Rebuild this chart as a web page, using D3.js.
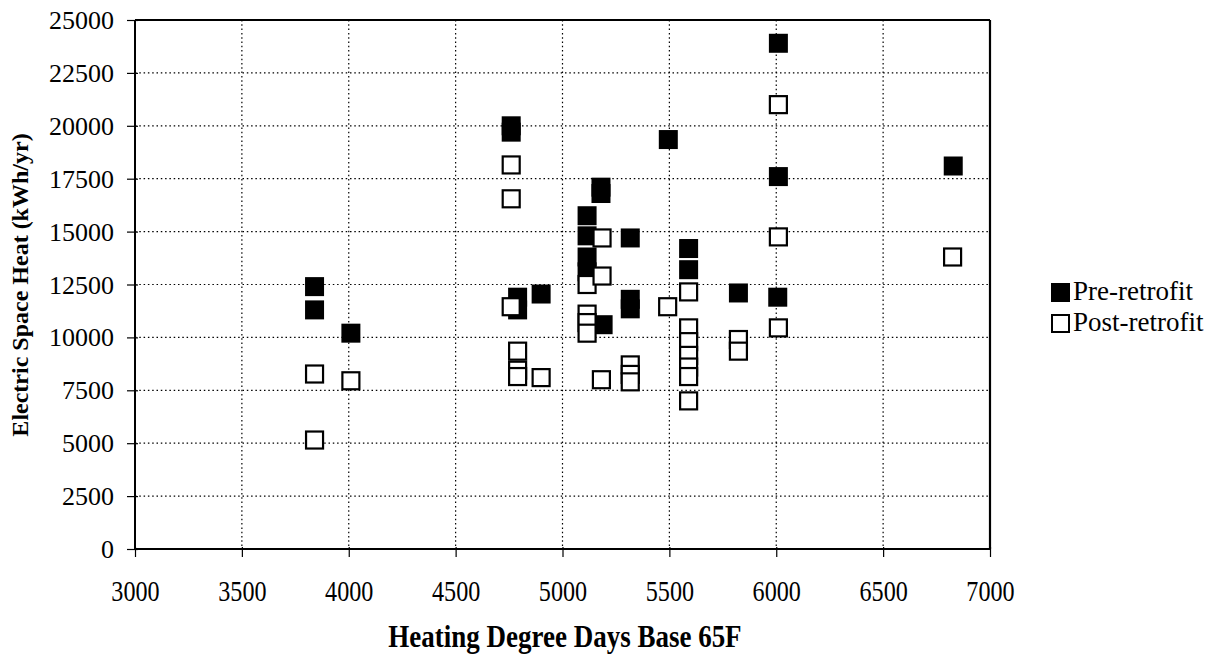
<!DOCTYPE html>
<html lang="en">
<head>
<meta charset="UTF-8">
<title>Electric Space Heat vs HDD</title>
<script src="https://d3js.org/d3.v7.min.js"></script>
<style>
    body { margin: 0; background: #fff; }
    text { font-family: "Liberation Serif", "Times New Roman", serif; fill: #000; }
    .grid line { stroke: #000; stroke-width: 1.2; stroke-dasharray: 1.5,2.8; }
</style>
</head>
<body>
<svg width="1220" height="656"></svg>
<script>
// pre-retrofit readings (filled squares)
const preHDD = [3840, 3840, 4010, 4760, 4760, 4790, 4790, 4900, 5115, 5115, 5115, 5115,
    5180, 5180, 5190, 5317, 5317, 5317, 5495, 5590, 5590, 5823, 6010, 6010, 6007, 6828];
const preKwh = [12400, 11300, 10200, 20000, 19700, 11900, 11300, 12050, 15750, 14800, 13800, 13100,
    17100, 16800, 10600, 14700, 11800, 11350, 19350, 14200, 13200, 12100, 23900, 17600, 11900, 18100];

// post-retrofit readings (open squares)
const postHDD = [3840, 3840, 4010, 4760, 4760, 4760, 4790, 4790, 4790, 4900, 5115, 5115, 5115, 5115,
    5185, 5185, 5182, 5317, 5317, 5317, 5492, 5590, 5590, 5590, 5590, 5590, 5590, 5590,
    5823, 5823, 6010, 6010, 6010, 6825];
const postKwh = [8270, 5150, 7950, 18150, 16550, 11450, 9350, 8450, 8150, 8100, 12500, 11100, 10700, 10200,
    14700, 12900, 8000, 8700, 8250, 7900, 11450, 12150, 10450, 9800, 9150, 8600, 8150, 7000,
    9900, 9350, 21000, 14750, 10450, 13800];

const xTicks = [3000, 3500, 4000, 4500, 5000, 5500, 6000, 6500, 7000];
const yTicks = [0, 2500, 5000, 7500, 10000, 12500, 15000, 17500, 20000, 22500, 25000];
const seriesNames = ["Pre-retrofit", "Post-retrofit"];

const svg = d3.select("svg");
const pL = 135, pR = 990, pT = 20, pB = 549;

const x = d3.scaleLinear().domain([3000, 7000]).range([pL, pR]);
const y = d3.scaleLinear().domain([0, 25000]).range([pB, pT]);

// dotted grid
const grid = svg.append("g").attr("class", "grid");
grid.selectAll(".gy").data(yTicks.slice(1, -1)).join("line")
    .attr("x1", pL).attr("x2", pR)
    .attr("y1", d => y(d)).attr("y2", d => y(d));
grid.selectAll(".gx").data(xTicks.slice(1, -1)).join("line")
    .attr("x1", d => x(d)).attr("x2", d => x(d))
    .attr("y1", pT).attr("y2", pB);

// frame top + right
svg.append("line").attr("x1", pL).attr("x2", pR).attr("y1", pT).attr("y2", pT)
    .attr("stroke", "#000").attr("stroke-width", 2);
svg.append("line").attr("x1", pR).attr("x2", pR).attr("y1", pT).attr("y2", pB)
    .attr("stroke", "#000").attr("stroke-width", 2.2);

// axes
let xAxis = svg.append("g").attr("transform", `translate(0,${pB})`)
    .call(d3.axisBottom(x).tickValues(xTicks).tickSize(8).tickFormat(d3.format("d")));
let yAxis = svg.append("g").attr("transform", `translate(${pL},0)`)
    .call(d3.axisLeft(y).tickValues(yTicks).tickSize(8).tickPadding(13).tickFormat(d3.format("d")));

[xAxis, yAxis].forEach(a => {
    a.select(".domain").attr("stroke", "#000").attr("stroke-width", 2);
    a.selectAll(".tick line").attr("stroke", "#000").attr("stroke-width", 1.2);
});
yAxis.select(".domain").attr("d", `M0,${pT}V${pB}`);
xAxis.select(".domain").attr("d", `M${pL},0H${pR}`);
yAxis.selectAll(".tick line").attr("x1", 3);
xAxis.selectAll(".tick line").attr("y1", -2);

yAxis.selectAll(".tick text").style("font-size", "26px").attr("dy", "0.33em");
xAxis.selectAll(".tick text")
    .style("font-size", "23px")
    .attr("dy", null).attr("y", null)
    .attr("transform", "translate(0,52) scale(1.05,1.3)");

// axis titles
const cx = 565;
svg.append("text")
    .attr("x", cx).attr("y", 647)
    .attr("text-anchor", "middle")
    .style("font-size", "27px").style("font-weight", "bold")
    .attr("transform", `translate(${cx},647) scale(1,1.15) translate(${-cx},-647)`)
    .text("Heating Degree Days Base 65F");

svg.append("text")
    .attr("transform", "translate(28,285) rotate(-90)")
    .attr("text-anchor", "middle")
    .style("font-size", "24px").style("font-weight", "bold")
    .text("Electric Space Heat (kWh/yr)");

// markers: filled first, open drawn on top
const sz = 17;
svg.append("g").selectAll("rect").data(preHDD.map((h, i) => [h, preKwh[i]])).join("rect")
    .attr("x", d => x(d[0]) - sz / 2 - 1).attr("y", d => y(d[1]) - sz / 2 - 1)
    .attr("width", sz + 2).attr("height", sz + 2)
    .attr("fill", "#000");
svg.append("g").selectAll("rect").data(postHDD.map((h, i) => [h, postKwh[i]])).join("rect")
    .attr("x", d => x(d[0]) - sz / 2).attr("y", d => y(d[1]) - sz / 2)
    .attr("width", sz).attr("height", sz)
    .attr("fill", "#fff").attr("stroke", "#000").attr("stroke-width", 2.2);

// legend
const leg = svg.append("g").selectAll("g").data(seriesNames).join("g")
    .attr("transform", (d, i) => `translate(1051,${292 + i * 31})`);
leg.append("rect")
    .attr("x", 1).attr("y", -8).attr("width", 17).attr("height", 17)
    .attr("fill", (d, i) => i === 0 ? "#000" : "#fff")
    .attr("stroke", "#000").attr("stroke-width", 2);
leg.append("text")
    .attr("x", 22).attr("y", 8)
    .style("font-size", "27px")
    .text(d => d);
</script>
</body>
</html>
